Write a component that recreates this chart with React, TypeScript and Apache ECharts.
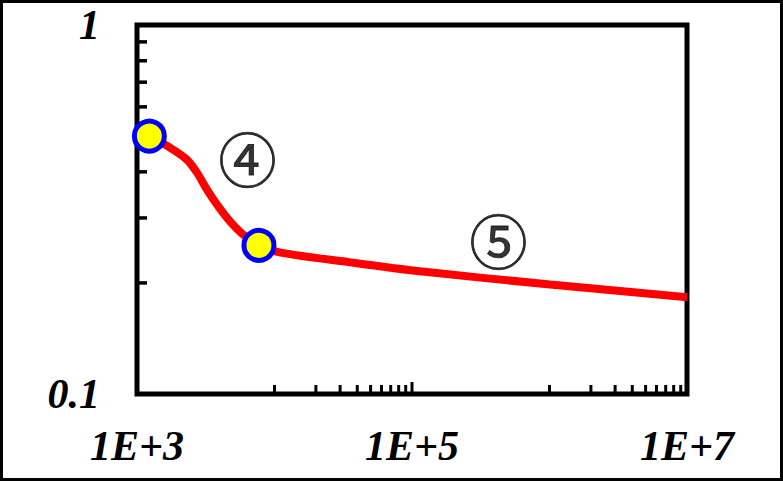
import React, { useEffect, useRef } from "react";
import * as echarts from "echarts";

// Curve data (x: frequency-like log axis, y: log axis)
const curveX = [1230, 1738, 2310, 2730, 3228, 3819, 4748, 5902, 7709, 10870, 35400, 114300, 1010000, 10000000];
const curveY = [0.5, 0.465, 0.4315, 0.398, 0.358, 0.326, 0.2935, 0.2706, 0.2529, 0.242, 0.2274, 0.215, 0.198, 0.183];

// Highlighted points
const markerX = [1230, 7709];
const markerY = [0.5, 0.2529];

// Region annotations
const noteText = ["④", "⑤"];
const noteX = [6363, 425600];
const noteY = [0.44, 0.2624];

// Axis ranges and ticks
const xMin = 1000;
const xMax = 10000000;
const yMin = 0.1;
const yMax = 1;
const xTickValues = [10000, 20000, 30000, 40000, 50000, 60000, 70000, 80000, 90000, 100000,
  1000000, 2000000, 3000000, 4000000, 5000000, 6000000, 7000000, 8000000, 9000000];
const xTallTicks = [100000];
const yTickValues = [0.2, 0.3, 0.4, 0.5, 0.6, 0.7, 0.8, 0.9];

export default function App() {
  const ref = useRef<HTMLDivElement>(null);
  useEffect(() => {
    if (!ref.current) return;
    const chart = echarts.init(ref.current, null, { renderer: "svg" });
    const labelFont = {
      fontFamily: "'Liberation Serif', 'Times New Roman', serif",
      fontStyle: "italic" as const,
      fontWeight: "bold" as const,
      fontSize: 42,
      color: "#000",
    };
    chart.setOption({
      animation: false,
      backgroundColor: "#fff",
      grid: {
        left: 137,
        right: 96,
        top: 25,
        bottom: 87,
        show: true,
        borderColor: "#000",
        borderWidth: 5,
        backgroundColor: "transparent",
      },
      graphic: [
        {
          type: "rect",
          shape: { x: 1.5, y: 1.5, width: 780, height: 478 },
          style: { fill: "none", stroke: "#000", lineWidth: 3 },
          silent: true,
          z: 100,
        },
      ],
      xAxis: {
        type: "log",
        logBase: 10,
        min: xMin,
        max: xMax,
        splitLine: { show: false },
        axisLine: { show: false },
        axisTick: { show: false },
        axisLabel: {
          ...labelFont,
          margin: 31,
          formatter: (v: number) => {
            const e = Math.round(Math.log10(v));
            return e % 2 === 1 ? `1E+${e}` : "";
          },
        },
      },
      yAxis: {
        type: "log",
        logBase: 10,
        min: yMin,
        max: yMax,
        splitLine: { show: false },
        axisLine: { show: false },
        axisTick: { show: false },
        axisLabel: {
          ...labelFont,
          margin: 37,
          formatter: (v: number) => (Math.abs(v - 1) < 1e-9 ? "1" : "0.1"),
        },
      },
      series: [
        {
          type: "custom",
          name: "xticks",
          silent: true,
          data: xTickValues.map((v) => [v, yMin, xTallTicks.includes(v) ? 12 : 9]),
          renderItem: (params: any, api: any) => {
            const p = api.coord([api.value(0), api.value(1)]);
            const len = api.value(2);
            return {
              type: "line",
              shape: { x1: p[0], y1: p[1], x2: p[0], y2: p[1] - len },
              style: { stroke: "#000", lineWidth: 3 },
            };
          },
          z: 5,
        },
        {
          type: "custom",
          name: "yticks",
          silent: true,
          data: yTickValues.map((v) => [xMin, v]),
          renderItem: (params: any, api: any) => {
            const p = api.coord([api.value(0), api.value(1)]);
            return {
              type: "line",
              shape: { x1: p[0], y1: p[1], x2: p[0] + 10, y2: p[1] },
              style: { stroke: "#000", lineWidth: 3.5 },
            };
          },
          z: 5,
        },
        {
          type: "line",
          data: curveX.map((x, i) => [x, curveY[i]]),
          smooth: 0.3,
          showSymbol: false,
          lineStyle: { color: "#ff0000", width: 8 },
          z: 6,
        },
        {
          type: "scatter",
          data: markerX.map((x, i) => [x, markerY[i]]),
          symbol: "circle",
          symbolSize: 30,
          itemStyle: { color: "#ffff00", borderColor: "#0000ff", borderWidth: 5, opacity: 1 },
          z: 10,
        },
        {
          type: "scatter",
          data: noteX.map((x, i) => ({ value: [x, noteY[i]], name: noteText[i] })),
          symbolSize: 0,
          label: {
            show: true,
            position: "inside",
            formatter: (p: any) => p.name,
            fontFamily: "'Noto Sans CJK JP', 'DejaVu Sans', sans-serif",
            fontWeight: "normal",
            fontSize: 58,
            color: "#000",
            textBorderColor: "#000",
            textBorderWidth: 0.8,
          },
          z: 10,
        },
      ],
    });
    return () => chart.dispose();
  }, []);
  return (
    <div
      ref={ref}
      style={{ position: "fixed", left: 0, top: 0, width: 783, height: 481 }}
    />
  );
}
